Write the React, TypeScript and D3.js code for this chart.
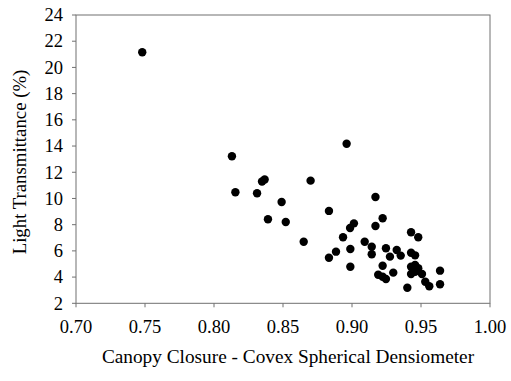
import React from "react";
import * as d3 from "d3";

// Canopy closure (densiometer reading) vs. light transmittance (%)
const closure: number[] = [
  0.748, 0.813, 0.8155, 0.8312, 0.8348, 0.8367, 0.8391, 0.849, 0.852, 0.865,
  0.870, 0.8833, 0.8833, 0.8884, 0.8935, 0.8961, 0.8986, 0.8988, 0.8988, 0.9014,
  0.9092, 0.9143, 0.9143, 0.917, 0.917, 0.919, 0.9222, 0.9222, 0.9222, 0.9246,
  0.9246, 0.9275, 0.9299, 0.9324, 0.9353, 0.9401, 0.9428, 0.9428, 0.9428, 0.9428,
  0.9457, 0.9457, 0.9457, 0.948, 0.948, 0.9507, 0.9531, 0.956, 0.9638, 0.9638,
];
const transmittance: number[] = [
  21.16, 13.22, 10.47, 10.4, 11.3, 11.45, 8.41, 9.73, 8.2, 6.7,
  11.36, 9.05, 5.48, 5.94, 7.04, 14.18, 7.75, 6.14, 4.79, 8.1,
  6.7, 6.32, 5.74, 10.11, 7.9, 4.18, 8.49, 4.87, 4.03, 6.2,
  3.85, 5.56, 4.34, 6.07, 5.64, 3.19, 7.42, 5.86, 4.79, 4.24,
  5.66, 4.92, 4.41, 7.04, 4.67, 4.24, 3.65, 3.3, 4.49, 3.45,
];

const xTicks: number[] = [0.7, 0.75, 0.8, 0.85, 0.9, 0.95, 1.0];
const yTicks: number[] = [2, 4, 6, 8, 10, 12, 14, 16, 18, 20, 22, 24];

const W = 511;
const H = 381;
const left = 76;
const right = 490;
const top = 15;
const bottom = 303.3;
const axisColor = "#707070";
const textStyle: React.CSSProperties = {
  fontFamily: "Liberation Serif, DejaVu Serif, serif",
};

export default function App() {
  const x = d3.scaleLinear().domain([0.7, 1.0]).range([left, right]);
  const y = d3.scaleLinear().domain([2, 24]).range([bottom, top]);

  return (
    <svg
      width={W}
      height={H}
      style={{ position: "absolute", left: 0, top: 0, background: "#fff" }}
    >
      {/* frame */}
      <rect
        x={left}
        y={top}
        width={right - left}
        height={bottom - top}
        fill="none"
        stroke={axisColor}
        strokeWidth={1}
      />
      {/* y ticks */}
      {yTicks.map((t) => (
        <g key={"y" + t}>
          <line x1={left - 4} x2={left} y1={y(t)} y2={y(t)} stroke={axisColor} />
          <text
            x={63}
            y={y(t)}
            dy="0.34em"
            textAnchor="end"
            fontSize={18.5}
            fill="#000"
            style={textStyle}
          >
            {t}
          </text>
        </g>
      ))}
      {/* x ticks */}
      {xTicks.map((t) => (
        <g key={"x" + t}>
          <line x1={x(t)} x2={x(t)} y1={bottom} y2={bottom + 4} stroke={axisColor} />
          <text
            x={x(t)}
            y={333}
            textAnchor="middle"
            fontSize={18.5}
            fill="#000"
            style={textStyle}
          >
            {d3.format(".2f")(t)}
          </text>
        </g>
      ))}
      {/* points */}
      {closure.map((c, i) => (
        <circle key={i} cx={x(c)} cy={y(transmittance[i])} r={4.2} fill="#000" />
      ))}
      {/* axis titles */}
      <text x={288} y={363} textAnchor="middle" fontSize={19.3} fill="#000" style={textStyle}>
        Canopy Closure - Covex Spherical Densiometer
      </text>
      <text
        transform={`translate(26,162) rotate(-90)`}
        textAnchor="middle"
        fontSize={18.8}
        fill="#000"
        style={textStyle}
      >
        Light Transmittance (%)
      </text>
    </svg>
  );
}
